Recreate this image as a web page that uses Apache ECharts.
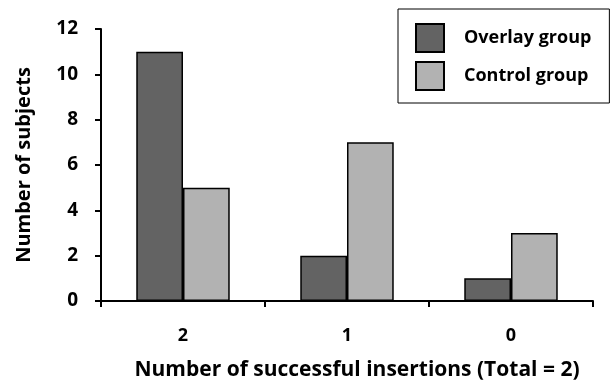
<!DOCTYPE html>
<html><head><meta charset="utf-8">
<script src="https://cdn.jsdelivr.net/npm/echarts@6/dist/echarts.min.js"></script>
<style>html,body{margin:0;padding:0;background:#fff}#c{width:616px;height:389px}</style>
</head><body><div id="c"></div>
<script>
const categories = ['2', '1', '0'];
const overlay = [11, 2, 1];
const control = [5, 7, 3];
const seriesNames = ['Overlay group', 'Control group'];
const FONT = '"Open Sans", sans-serif';
const chart = echarts.init(document.getElementById('c'));
chart.setOption({
  animation: false,
  backgroundColor: '#fff',
  grid: {left: 101, right: 23, top: 29, bottom: 88, containLabel: false},
  legend: {
    orient: 'vertical', left: 398, top: 9,
    padding: [14, 18, 12, 17], itemGap: 8,
    itemWidth: 28, itemHeight: 28, icon: 'rect',
    borderColor: '#000', borderWidth: 1,
    textStyle: {fontFamily: FONT, fontWeight: 'bold', fontSize: 18, color: '#000', padding: [0, 0, 0, 15]},
    data: seriesNames
  },
  xAxis: {
    type: 'category', data: categories,
    axisLine: {lineStyle: {color: '#000', width: 2}},
    axisTick: {show: true, length: 6, lineStyle: {color: '#000', width: 2}},
    axisLabel: {fontFamily: FONT, fontWeight: 'bold', fontSize: 18, color: '#000', margin: 26},
    name: 'Number of successful insertions (Total = 2)', nameLocation: 'middle', nameGap: 59,
    nameTextStyle: {fontFamily: FONT, fontWeight: 'bold', fontSize: 21, color: '#000', padding: [0, 0, 0, 20]}
  },
  yAxis: {
    type: 'value', min: 0, max: 12, interval: 2,
    splitLine: {show: false},
    axisLine: {show: true, lineStyle: {color: '#000', width: 2}},
    axisTick: {show: true, length: 6, lineStyle: {color: '#000', width: 2}},
    axisLabel: {fontFamily: FONT, fontWeight: 'bold', fontSize: 19, color: '#000', margin: 23},
    name: 'Number of subjects', nameLocation: 'middle', nameGap: 67,
    nameTextStyle: {fontFamily: FONT, fontWeight: 'bold', fontSize: 20, color: '#000'}
  },
  series: [
    {name: seriesNames[0], type: 'bar', data: overlay, barGap: '0%', barCategoryGap: '43%',
     itemStyle: {color: '#636363', borderColor: '#000', borderWidth: 1.5}},
    {name: seriesNames[1], type: 'bar', data: control,
     itemStyle: {color: '#b2b2b2', borderColor: '#000', borderWidth: 1.5}}
  ]
});
</script></body></html>
